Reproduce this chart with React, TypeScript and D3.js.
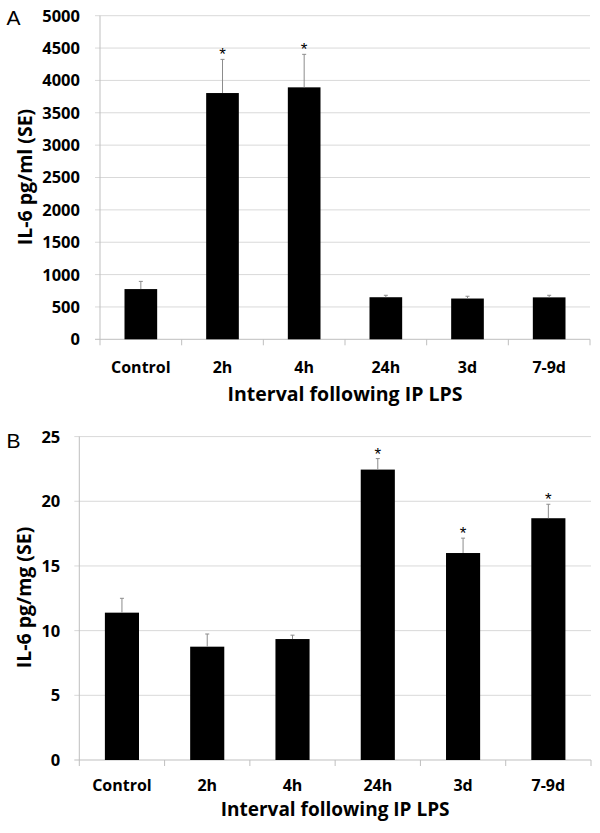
import React from "react";
import * as d3 from "d3";

const categories = ["Control", "2h", "4h", "24h", "3d", "7-9d"];

// Panel A: IL-6 pg/ml
const valuesA = [776, 3805, 3893, 650, 630, 648];
const errTopA = [895, 4325, 4403, 680, 665, 680];
const sigA = [false, true, true, false, false, false];
const ticksA = [0, 500, 1000, 1500, 2000, 2500, 3000, 3500, 4000, 4500, 5000];

// Panel B: IL-6 pg/mg
const valuesB = [11.39, 8.76, 9.35, 22.45, 16.0, 18.69];
const errTopB = [12.5, 9.74, 9.65, 23.3, 17.15, 19.77];
const sigB = [false, false, false, true, true, true];
const ticksB = [0, 5, 10, 15, 20, 25];

const FONT = "'Open Sans', 'DejaVu Sans', sans-serif";

type PanelProps = {
  letter: string;
  letterX: number;
  letterY: number;
  x0: number;
  x1: number;
  yBase: number;
  yTop: number;
  max: number;
  values: number[];
  errTop: number[];
  sig: boolean[];
  ticks: number[];
  yTitle: string;
  yTitleX: number;
  yTitleY: number;
  catLabelY: number;
  xTitleY: number;
  xTitleSize: number;
  tickLabelGap: number;
};

function Panel(p: PanelProps) {
  const x = d3
    .scaleBand<string>()
    .domain(categories)
    .range([p.x0, p.x1])
    .paddingInner(0.6)
    .paddingOuter(0.3);
  const y = d3.scaleLinear().domain([0, p.max]).range([p.yBase, p.yTop]);
  const step = x.step();
  const bw = x.bandwidth();
  const xTitleX = (p.x0 + p.x1) / 2;
  return (
    <g>
      <text
        x={p.letterX}
        y={p.letterY}
        fontFamily="'Liberation Sans', Arial, sans-serif"
        fontSize={21}
        fill="#000"
      >
        {p.letter}
      </text>
      {p.ticks.map((t) => (
        <g key={t}>
          <line
            x1={p.x0 - 5}
            x2={p.x1}
            y1={y(t)}
            y2={y(t)}
            stroke={t === 0 ? "#bfbfbf" : "#d9d9d9"}
            strokeWidth={1}
          />
          <text
            x={p.x0 - p.tickLabelGap}
            y={y(t)}
            dy="0.36em"
            textAnchor="end"
            fontFamily={FONT}
            fontWeight="bold"
            fontSize={16.5}
            fill="#000"
          >
            {t}
          </text>
        </g>
      ))}
      <line x1={p.x0} x2={p.x0} y1={y(p.max)} y2={p.yBase} stroke="#bfbfbf" />
      {d3.range(categories.length + 1).map((i) => (
        <line
          key={i}
          x1={p.x0 + i * step}
          x2={p.x0 + i * step}
          y1={p.yBase}
          y2={p.yBase + 6}
          stroke="#bfbfbf"
        />
      ))}
      {categories.map((c, i) => {
        const bx = x(c) as number;
        const cx = bx + bw / 2;
        return (
          <g key={c}>
            <rect
              x={bx}
              y={y(p.values[i])}
              width={bw}
              height={p.yBase - y(p.values[i])}
              fill="#000"
            />
            <line
              x1={cx}
              x2={cx}
              y1={y(p.values[i])}
              y2={y(p.errTop[i])}
              stroke="#8c8c8c"
              strokeWidth={1}
            />
            <line
              x1={cx - 2}
              x2={cx + 2}
              y1={y(p.errTop[i])}
              y2={y(p.errTop[i])}
              stroke="#8c8c8c"
              strokeWidth={1}
            />
            {p.sig[i] && (
              <text
                x={cx}
                y={y(p.errTop[i]) + 1}
                textAnchor="middle"
                fontFamily="'Liberation Sans', Arial, sans-serif"
                fontSize={17}
                fill="#000"
              >
                *
              </text>
            )}
            <text
              x={cx}
              y={p.catLabelY}
              textAnchor="middle"
              fontFamily={FONT}
              fontWeight="bold"
              fontSize={16}
              fill="#000"
            >
              {c}
            </text>
          </g>
        );
      })}
      <text
        x={xTitleX}
        y={p.xTitleY}
        textAnchor="middle"
        fontFamily={FONT}
        fontWeight="bold"
        fontSize={p.xTitleSize}
        fill="#000"
      >
        Interval following IP LPS
      </text>
      <text
        transform={`translate(${p.yTitleX},${p.yTitleY}) rotate(-90)`}
        textAnchor="middle"
        fontFamily={FONT}
        fontWeight="bold"
        fontSize={19.5}
        fill="#000"
      >
        {p.yTitle}
      </text>
    </g>
  );
}

export default function App() {
  return (
    <svg
      width={600}
      height={833}
      style={{ position: "absolute", left: 0, top: 0, background: "#fff" }}
    >
      <rect x={0} y={0} width={600} height={833} fill="#fff" />
      <Panel
        letter="A"
        letterX={6.5}
        letterY={25}
        x0={100}
        x1={590}
        yBase={339.3}
        yTop={15.7}
        max={5000}
        values={valuesA}
        errTop={errTopA}
        sig={sigA}
        ticks={ticksA}
        yTitle="IL-6 pg/ml (SE)"
        yTitleX={32}
        yTitleY={177}
        catLabelY={372.5}
        xTitleY={400.5}
        xTitleSize={19.5}
        tickLabelGap={20}
      />
      <Panel
        letter="B"
        letterX={6.5}
        letterY={448}
        x0={79.3}
        x1={591}
        yBase={760}
        yTop={436.6}
        max={25}
        values={valuesB}
        errTop={errTopB}
        sig={sigB}
        ticks={ticksB}
        yTitle="IL-6 pg/mg (SE)"
        yTitleX={31}
        yTitleY={597.5}
        catLabelY={791}
        xTitleY={816}
        xTitleSize={19}
        tickLabelGap={19}
      />
    </svg>
  );
}
